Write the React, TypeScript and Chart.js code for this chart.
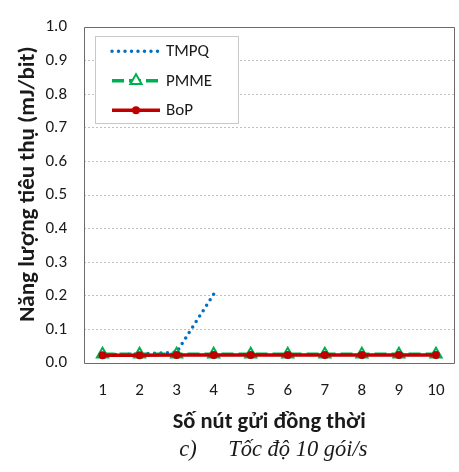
import React, { useEffect, useRef } from "react";
import { Chart, registerables } from "chart.js";

Chart.register(...registerables);

const categories = ["1", "2", "3", "4", "5", "6", "7", "8", "9", "10"];
const tmpq = [0.024, 0.027, 0.032, 0.205, null, null, null, null, null, null];
const pmme = [0.026, 0.026, 0.026, 0.026, 0.026, 0.026, 0.026, 0.026, 0.026, 0.026];
const bop = [0.023, 0.023, 0.024, 0.024, 0.024, 0.024, 0.024, 0.024, 0.024, 0.024];
const seriesNames = ["TMPQ", "PMME", "BoP"];
const yTitle = "Năng lượng tiêu thụ (mJ/bit)";
const xTitle = "Số nút gửi đồng thời";
const captionLabel = "c)";
const captionText = "Tốc độ 10 gói/s";

const FONT = "Carlito, Lato, 'Open Sans', sans-serif";

const framePlugin = {
  id: "frame",
  beforeDatasetsDraw(chart: any) {
    const { ctx, chartArea: a } = chart;
    ctx.save();
    ctx.strokeStyle = "#6b6b6b";
    ctx.lineWidth = 1;
    ctx.beginPath();
    ctx.moveTo(Math.round(a.left) + 0.5, Math.round(a.bottom) + 0.5);
    ctx.lineTo(Math.round(a.left) + 0.5, Math.round(a.top) + 0.5);
    ctx.lineTo(Math.round(a.right) + 0.5, Math.round(a.top) + 0.5);
    ctx.lineTo(Math.round(a.right) + 0.5, Math.round(a.bottom) + 0.5);
    ctx.closePath();
    ctx.stroke();
    ctx.restore();
  },
};

const legendPlugin = {
  id: "insideLegend",
  afterDraw(chart: any) {
    const { ctx, chartArea: a } = chart;
    const x0 = a.left + 11;
    const y0 = a.top + 9;
    const w = 143;
    const h = 87;
    ctx.save();
    ctx.fillStyle = "#ffffff";
    ctx.fillRect(x0, y0, w, h);
    ctx.strokeStyle = "#c8c8c8";
    ctx.lineWidth = 1;
    ctx.strokeRect(Math.round(x0) + 0.5, Math.round(y0) + 0.5, w, h);
    chart.data.datasets.forEach((ds: any, i: number) => {
      const cy = y0 + 15 + i * 29.5;
      const sx1 = x0 + 17;
      const sx2 = x0 + 65;
      ctx.save();
      ctx.strokeStyle = ds.borderColor;
      ctx.lineWidth = ds.borderWidth;
      ctx.lineCap = ds.borderCapStyle || "butt";
      ctx.setLineDash(ds.borderDash || []);
      ctx.beginPath();
      ctx.moveTo(sx1, cy);
      ctx.lineTo(sx2, cy);
      ctx.stroke();
      ctx.restore();
      const mx = (sx1 + sx2) / 2;
      if (ds.pointStyle === "triangle" && ds.pointRadius > 0) {
        const r = ds.pointRadius;
        ctx.save();
        ctx.fillStyle = ds.pointBackgroundColor;
        ctx.strokeStyle = ds.pointBorderColor;
        ctx.lineWidth = ds.pointBorderWidth;
        ctx.beginPath();
        ctx.moveTo(mx, cy - r);
        ctx.lineTo(mx + r * Math.sin(Math.PI * 2 / 3), cy + r / 2);
        ctx.lineTo(mx - r * Math.sin(Math.PI * 2 / 3), cy + r / 2);
        ctx.closePath();
        ctx.fill();
        ctx.stroke();
        ctx.restore();
      } else if (ds.pointStyle === "circle" && ds.pointRadius > 0) {
        ctx.save();
        ctx.fillStyle = ds.pointBackgroundColor;
        ctx.beginPath();
        ctx.arc(mx, cy, ds.pointRadius, 0, Math.PI * 2);
        ctx.fill();
        ctx.restore();
      }
      ctx.fillStyle = "#1a1a1a";
      ctx.font = `17px ${FONT}`;
      ctx.textAlign = "left";
      ctx.textBaseline = "middle";
      ctx.fillText(ds.label, sx2 + 6, cy + 1);
    });
    ctx.restore();
  },
};

const textPlugin = {
  id: "extraText",
  afterDraw(chart: any) {
    const { ctx, chartArea: a } = chart;
    const cx = (a.left + a.right) / 2;
    ctx.save();
    // y-axis title
    ctx.save();
    ctx.translate(28, (a.top + a.bottom) / 2 - 11);
    ctx.rotate(-Math.PI / 2);
    ctx.fillStyle = "#1a1a1a";
    ctx.font = `bold 23px ${FONT}`;
    ctx.textAlign = "center";
    ctx.textBaseline = "middle";
    ctx.fillText(yTitle, 0, 0);
    ctx.restore();
    // caption
    ctx.fillStyle = "#1a1a1a";
    ctx.font = "italic 22.5px 'Liberation Serif', serif";
    ctx.textBaseline = "middle";
    ctx.textAlign = "left";
    ctx.fillText(captionLabel, cx - 90, 450);
    ctx.fillText(captionText, cx - 41, 450);
    ctx.restore();
  },
};

export default function App() {
  const ref = useRef<HTMLCanvasElement>(null);
  useEffect(() => {
    const canvas = ref.current!;
    const chart = new Chart(canvas, {
      type: "line",
      data: {
        labels: categories,
        datasets: [
          {
            label: seriesNames[0],
            data: tmpq,
            borderColor: "#0070C0",
            borderWidth: 3.5,
            borderDash: [0, 6.5],
            borderCapStyle: "round",
            pointRadius: 0,
            pointStyle: "none" as any,
            spanGaps: false,
            order: 2,
            clip: false as any,
          },
          {
            label: seriesNames[1],
            data: pmme,
            borderColor: "#00B050",
            borderWidth: 3.5,
            borderDash: [12, 5],
            pointStyle: "triangle",
            pointRadius: 6.5,
            pointBackgroundColor: "#ffffff",
            pointBorderColor: "#00B050",
            pointBorderWidth: 2,
            order: 1,
            clip: false as any,
          },
          {
            label: seriesNames[2],
            data: bop,
            borderColor: "#C00000",
            borderWidth: 3.5,
            pointStyle: "circle",
            pointRadius: 4,
            pointBackgroundColor: "#C00000",
            pointBorderColor: "#C00000",
            pointBorderWidth: 0,
            order: 0,
            clip: false as any,
          },
        ],
      },
      options: {
        responsive: false,
        animation: false,
        devicePixelRatio: 1,
        layout: { padding: { top: 15, left: 0, right: 0, bottom: 32 } },
        plugins: {
          legend: { display: false },
          tooltip: { enabled: false },
          title: { display: false },
        },
        elements: { line: { tension: 0 } },
        scales: {
          x: {
            type: "category",
            offset: true,
            grid: { display: false, drawTicks: false },
            border: { display: false },
            ticks: {
              color: "#1a1a1a",
              font: { family: FONT, size: 17 },
              padding: 18,
              maxRotation: 0,
              autoSkip: false,
            },
            title: {
              display: true,
              text: xTitle,
              color: "#1a1a1a",
              font: { family: FONT, size: 22.5, weight: "bold" },
              padding: { top: 4, bottom: 4 },
            },
            afterFit(scale: any) {
              scale.height = 77;
            },
          },
          y: {
            min: 0,
            max: 1,
            grid: {
              drawTicks: false,
              color: (c: any) =>
                c.tick && (c.tick.value <= 0.0001 || c.tick.value >= 0.9999) ? "rgba(0,0,0,0)" : "#bfbfbf",
              lineWidth: 1,
            },
            border: { display: false, dash: [2, 2] },
            ticks: {
              stepSize: 0.1,
              color: "#1a1a1a",
              font: { family: FONT, size: 17 },
              padding: 17,
              callback: (v: any) => Number(v).toFixed(1),
            },
            title: { display: false },
            afterFit(scale: any) {
              scale.width = 84;
            },
          },
        },
      },
      plugins: [framePlugin, legendPlugin, textPlugin],
    });
    return () => chart.destroy();
  }, []);
  return (
    <div style={{ position: "fixed", left: 0, top: 0, width: 459, height: 472, overflow: "hidden", background: "#fff" }}>
      <canvas ref={ref} width={463} height={472} style={{ display: "block" }} />
    </div>
  );
}
